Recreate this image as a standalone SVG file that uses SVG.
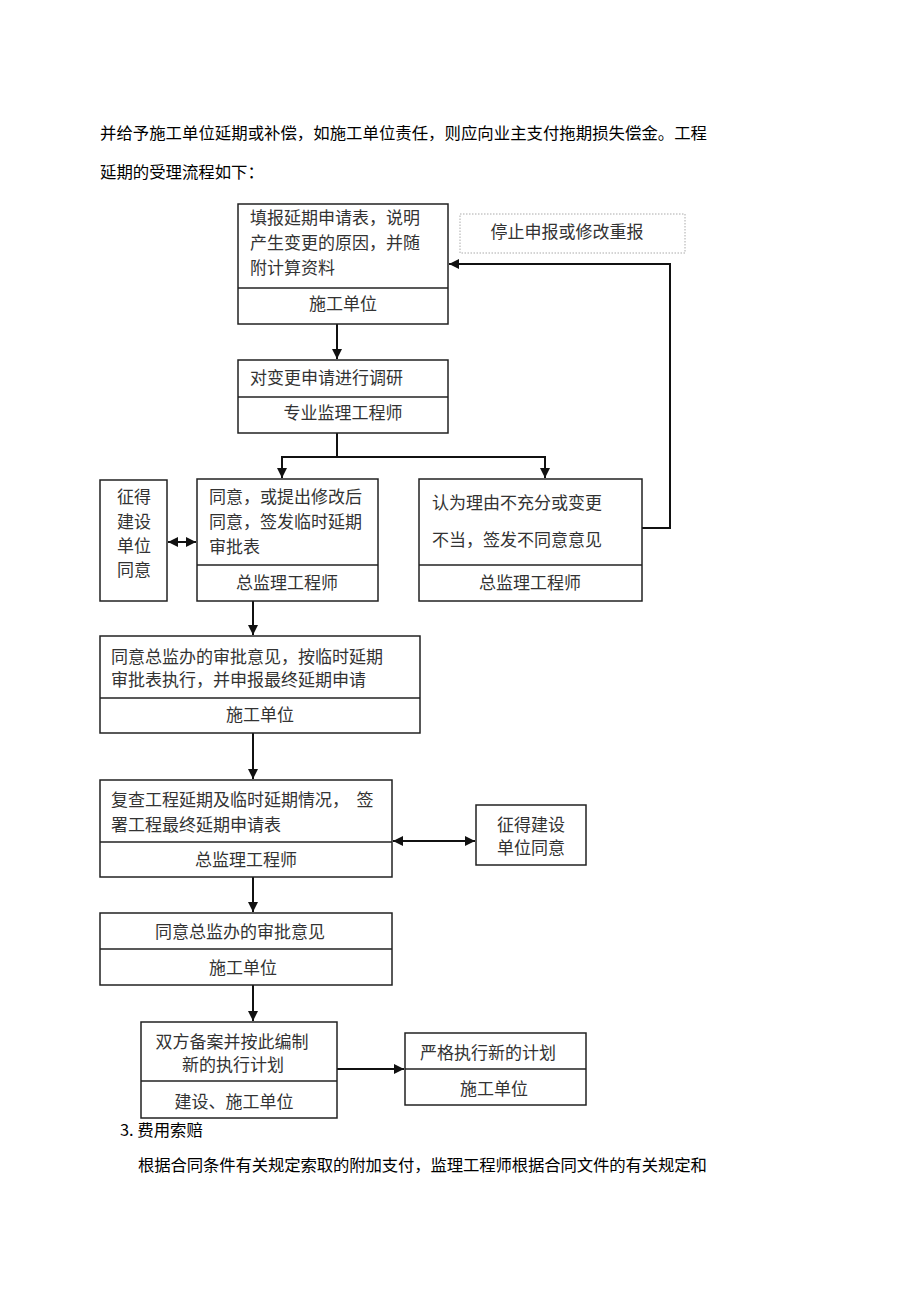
<svg xmlns="http://www.w3.org/2000/svg" width="920" height="1303" viewBox="0 0 920 1303">
<defs>
<marker id="ah" viewBox="0 0 10 10" refX="10" refY="5" markerWidth="5" markerHeight="5" orient="auto-start-reverse" markerUnits="strokeWidth">
<path d="M0,0 L10,5 L0,10 z" fill="#111"/>
</marker>
<style>
.box{fill:#fff;stroke:#222;stroke-width:1.5}
.dotbox{fill:#fff;stroke:#aaa;stroke-width:1;stroke-dasharray:1.5 1.5}
.div{stroke:#222;stroke-width:1.5}
.t{font-family:"Noto Sans CJK SC","Noto Sans CJK JP",sans-serif;font-size:17px;fill:#333}
.c{text-anchor:middle}
.p{font-family:"Noto Sans CJK SC","Noto Sans CJK JP",sans-serif;font-size:16.4px;fill:#000}
.con{fill:none;stroke:#111;stroke-width:2}
</style>
</defs>
<rect width="920" height="1303" fill="#fff"/>

<text class="p" x="100" y="139" textLength="607">并给予施工单位延期或补偿，如施工单位责任，则应向业主支付拖期损失偿金。工程</text>
<text class="p" x="100" y="178">延期的受理流程如下：</text>

<g id="connectors">
<line class="con" x1="337" y1="324" x2="337" y2="359" marker-end="url(#ah)"/>
<polyline class="con" points="337,433 337,457"/>
<polyline class="con" points="282,478 282,457 545,457 545,478" marker-start="url(#ah)" marker-end="url(#ah)"/>
<polyline class="con" points="642,528 670,528 670,264 449,264" marker-end="url(#ah)"/>
<line class="con" x1="168" y1="542" x2="196" y2="542" marker-start="url(#ah)" marker-end="url(#ah)"/>
<line class="con" x1="253" y1="601" x2="253" y2="635" marker-end="url(#ah)"/>
<line class="con" x1="253" y1="733" x2="253" y2="779" marker-end="url(#ah)"/>
<line class="con" x1="393" y1="841" x2="475" y2="841" marker-start="url(#ah)" marker-end="url(#ah)"/>
<line class="con" x1="253" y1="877" x2="253" y2="912" marker-end="url(#ah)"/>
<line class="con" x1="253" y1="985" x2="253" y2="1021" marker-end="url(#ah)"/>
<line class="con" x1="337" y1="1069" x2="404" y2="1069" marker-end="url(#ah)"/>
</g>

<g id="n1">
<rect class="box" x="238" y="204" width="210" height="120"/>
<line class="div" x1="238" y1="288" x2="448" y2="288"/>
<text class="t" x="250" y="224">填报延期申请表，说明</text>
<text class="t" x="250" y="249">产生变更的原因，并随</text>
<text class="t" x="250" y="274">附计算资料</text>
<text class="t c" x="343" y="310">施工单位</text>
</g>

<g id="stop">
<rect class="dotbox" x="460" y="214" width="225" height="39"/>
<text class="t c" x="567" y="238">停止申报或修改重报</text>
</g>

<g id="n2">
<rect class="box" x="238" y="360" width="210" height="73"/>
<line class="div" x1="238" y1="397" x2="448" y2="397"/>
<text class="t" x="250" y="384">对变更申请进行调研</text>
<text class="t c" x="343" y="419">专业监理工程师</text>
</g>

<g id="n3a">
<rect class="box" x="100" y="480" width="67" height="121"/>
<text class="t c" x="134" y="503">征得</text>
<text class="t c" x="134" y="528">建设</text>
<text class="t c" x="134" y="552">单位</text>
<text class="t c" x="134" y="576">同意</text>
</g>

<g id="n3">
<rect class="box" x="197" y="479" width="181" height="122"/>
<line class="div" x1="197" y1="565" x2="378" y2="565"/>
<text class="t" x="209" y="503">同意，或提出修改后</text>
<text class="t" x="209" y="528">同意，签发临时延期</text>
<text class="t" x="209" y="553">审批表</text>
<text class="t c" x="287" y="589">总监理工程师</text>
</g>

<g id="n4">
<rect class="box" x="419" y="479" width="223" height="122"/>
<line class="div" x1="419" y1="565" x2="642" y2="565"/>
<text class="t" x="432" y="509">认为理由不充分或变更</text>
<text class="t" x="432" y="546">不当，签发不同意意见</text>
<text class="t c" x="530" y="589">总监理工程师</text>
</g>

<g id="n5">
<rect class="box" x="100" y="636" width="320" height="97"/>
<line class="div" x1="100" y1="698" x2="420" y2="698"/>
<text class="t" x="111" y="663">同意总监办的审批意见，按临时延期</text>
<text class="t" x="111" y="686">审批表执行，并申报最终延期申请</text>
<text class="t c" x="260" y="721">施工单位</text>
</g>

<g id="n6">
<rect class="box" x="100" y="780" width="292" height="97"/>
<line class="div" x1="100" y1="842" x2="392" y2="842"/>
<text class="t" x="111" y="806" xml:space="preserve">复查工程延期及临时延期情况，  签</text>
<text class="t" x="111" y="831">署工程最终延期申请表</text>
<text class="t c" x="246" y="866">总监理工程师</text>
</g>

<g id="n6b">
<rect class="box" x="476" y="805" width="110" height="60"/>
<text class="t c" x="531" y="831">征得建设</text>
<text class="t c" x="531" y="854">单位同意</text>
</g>

<g id="n7">
<rect class="box" x="100" y="913" width="292" height="72"/>
<line class="div" x1="100" y1="949" x2="392" y2="949"/>
<text class="t c" x="240" y="938">同意总监办的审批意见</text>
<text class="t c" x="243" y="974">施工单位</text>
</g>

<g id="n8">
<rect class="box" x="141" y="1022" width="196" height="96"/>
<line class="div" x1="141" y1="1081" x2="337" y2="1081"/>
<text class="t c" x="232" y="1048">双方备案并按此编制</text>
<text class="t c" x="233" y="1071">新的执行计划</text>
<text class="t c" x="234" y="1108">建设、施工单位</text>
</g>

<g id="n9">
<rect class="box" x="405" y="1033" width="181" height="72"/>
<line class="div" x1="405" y1="1069" x2="586" y2="1069"/>
<text class="t c" x="488" y="1059">严格执行新的计划</text>
<text class="t c" x="494" y="1095">施工单位</text>
</g>

<text class="p" x="120" y="1136">3. 费用索赔</text>
<text class="p" x="138" y="1171" textLength="569">根据合同条件有关规定索取的附加支付，监理工程师根据合同文件的有关规定和</text>
</svg>
